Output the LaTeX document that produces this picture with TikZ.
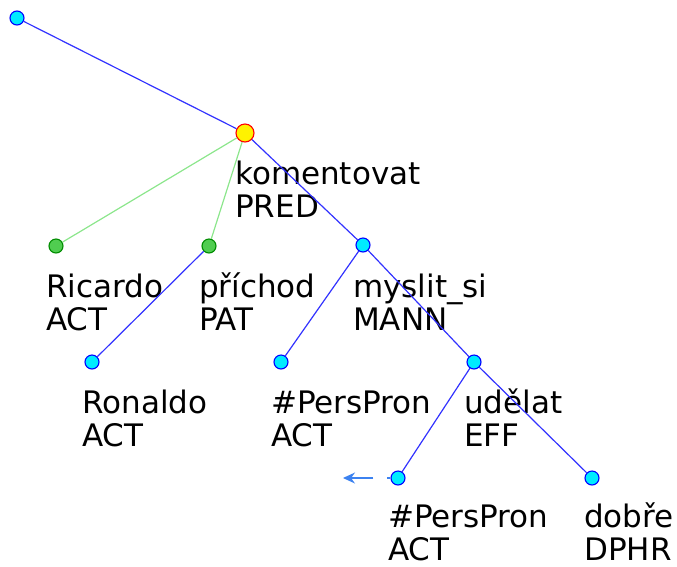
\documentclass[tikz,border=0pt]{standalone}
\usepackage{fontspec}
\setmainfont{DejaVu Sans}
\usetikzlibrary{arrows.meta}
\definecolor{edgeblue}{RGB}{50,50,255}
\definecolor{edgegreen}{RGB}{140,230,140}
\definecolor{nodecyan}{RGB}{0,235,255}
\definecolor{nodegreen}{RGB}{80,205,80}
\definecolor{corefblue}{RGB}{60,130,240}

\begin{document}
\begin{tikzpicture}[x=1pt,y=-1pt,font=\fontsize{31}{33}\selectfont,
  tnode/.style={circle,draw=blue,fill=nodecyan,line width=1.1pt,inner sep=0pt,minimum size=14pt},
  gnode/.style={tnode,draw=green!55!black,fill=nodegreen},
  pnode/.style={tnode,draw=red,fill=yellow,minimum size=18pt},
  lbl/.style={anchor=base west,align=left,inner sep=0pt},
  bedge/.style={draw=edgeblue,line width=1.2pt},
  gedge/.style={draw=edgegreen,line width=1.2pt},
  coref/.style={draw=corefblue,line width=1.2pt,-{Stealth[length=12pt,width=11pt]},dash pattern=on 3pt off 14pt on 60pt}]
\useasboundingbox (0,0) rectangle (677,566);
\node[tnode] (root) at (17,18) {};
\node[pnode] (kom) at (245,133) {}; \node[lbl] (komlbl) at (235,217) {komentovat\\PRED};
\node[gnode] (ric) at (56,246) {}; \node[lbl] (riclbl) at (46,330) {Ricardo\\ACT};
\node[gnode] (pri) at (209,246) {}; \node[lbl] (prilbl) at (199,330) {příchod\\PAT};
\node[tnode] (mys) at (363,245) {}; \node[lbl] (myslbl) at (353,330) {myslit\_si\\MANN};
\node[tnode] (ron) at (92,362) {}; \node[lbl] (ronlbl) at (82,446) {Ronaldo\\ACT};
\node[tnode] (pp1) at (281,362) {}; \node[lbl] (pp1lbl) at (271,446) {\#PersPron\\ACT};
\node[tnode] (ude) at (474,362) {}; \node[lbl] (udelbl) at (464,446) {udělat\\EFF};
\node[tnode] (pp2) at (398,478) {}; \node[lbl] (pp2lbl) at (388,560) {\#PersPron\\ACT};
\node[tnode] (dob) at (592,478) {}; \node[lbl] (doblbl) at (584,560) {dobře\\DPHR};
\coordinate (corefend) at (343,478);
\draw[bedge] (root) -- (kom); \draw[bedge] (kom) -- (mys);
\draw[gedge] (kom) -- (ric); \draw[gedge] (kom) -- (pri);
\draw[bedge] (pri) -- (ron);
\draw[bedge] (mys) -- (pp1); \draw[bedge] (mys) -- (ude);
\draw[bedge] (ude) -- (pp2); \draw[bedge] (ude) -- (dob);
\draw[coref] (pp2) -- (corefend);
\end{tikzpicture}
\end{document}
